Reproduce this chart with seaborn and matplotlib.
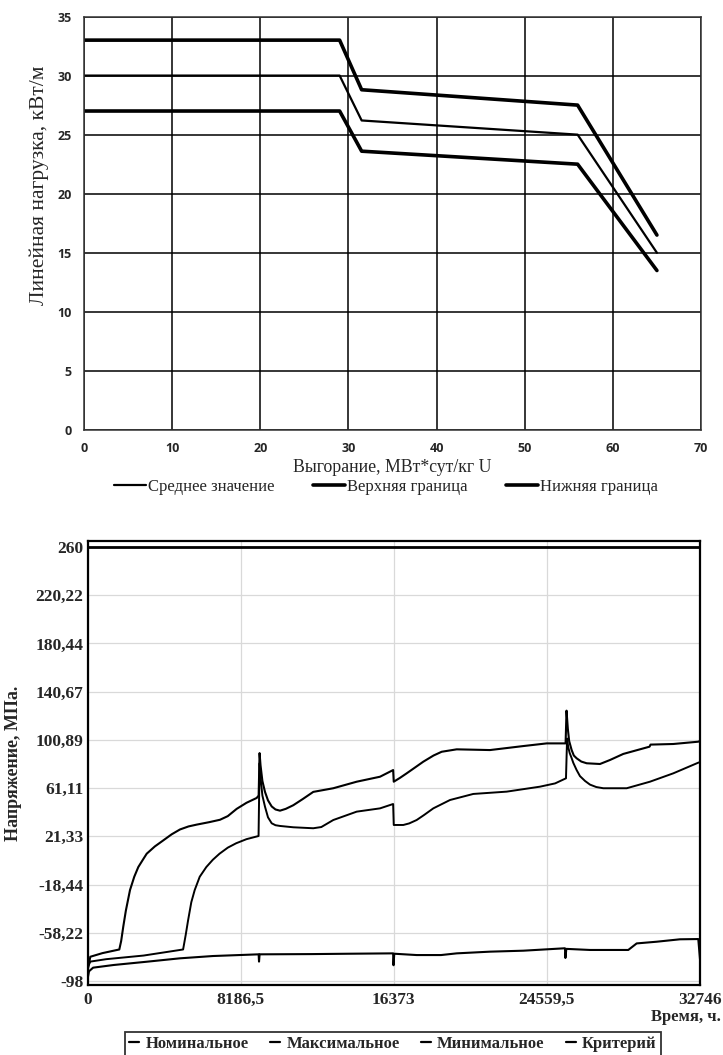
import numpy as np
import pandas as pd
import matplotlib
matplotlib.use("Agg")
import matplotlib.pyplot as plt
import seaborn as sns
from matplotlib.lines import Line2D

# ---------------- data: top chart ----------------
burnup = [0, 29, 31.5, 56, 65]
load_mean = [30, 30, 26.2, 25.0, 15.0]
load_upper = [33, 33, 28.8, 27.5, 16.5]
load_lower = [27, 27, 23.6, 22.5, 13.5]
top_labels = ["Среднее значение", "Верхняя граница", "Нижняя граница"]
top_xticks = [0, 10, 20, 30, 40, 50, 60, 70]
top_yticks = [0, 5, 10, 15, 20, 25, 30, 35]

# ---------------- data: bottom chart ----------------
t_max = [0, 25, 150, 800, 1700, 1800, 1914, 2050, 2272, 2500, 2716, 3000, 3165, 3600,
         4052, 4500, 4945, 5400, 5838, 6500, 7083, 7500, 7976, 8500, 9046,
         9150, 9200, 9250, 9350, 9489, 9650, 9847, 10050, 10291, 10600, 11002, 11500,
         12071, 13141, 14392, 15638, 16340,
         16373, 16700, 17064, 17500, 17952, 18500, 18936, 19738, 21518, 23299, 24549,
         25560, 25610, 25680, 25750, 25884, 26000, 26151, 26400, 26687, 27398, 27933,
         28644, 30050, 30100, 31317, 32654, 32746]
s_max = [15, -88, -78, -75, -72, -65, -53, -40, -23, -12, -4, 3, 7, 13,
         18, 23, 27, 29.5, 31, 33, 35, 38, 44, 49, 53,
         55, 90, 80, 67, 58, 51, 46, 43.5, 42.5, 44, 47, 52,
         58, 61, 66.4, 70.5, 76,
         66.4, 69.5, 73.3, 78, 82.9, 88, 91.1, 93.1, 92.5, 95.8, 98,
         98, 125, 110, 100, 92.5, 88, 85.7, 83, 81.6, 81, 84.3,
         89.3, 95.3, 97, 97.5, 99.4, 100]

t_nom = [0, 30, 150, 1000, 3000, 5111, 5250, 5377, 5550, 5731, 6000, 6352, 6700, 7058,
         7500, 7945, 8500, 9145, 9200, 9250, 9350, 9489, 9650, 9847, 10050, 10291,
         11002, 12071, 12500, 13141, 14392, 15638, 16340, 16373, 16883,
         17200, 17599, 18000, 18487, 19380, 20625, 22411, 24191, 25000, 25581,
         25640, 25700, 25780, 25880, 25971, 26150, 26329, 26600, 26864, 27200,
         27575, 28826, 30071, 31317, 32654, 32746]
s_nom = [-90, -86, -82, -80, -77, -72, -60, -48, -33, -23, -12, -4, 2, 7,
         12, 15.6, 19, 21.6, 81.6, 70, 55, 45.8, 37, 32.1, 30.5, 29.9,
         28.8, 28, 29, 34.8, 41.7, 44.4, 48, 30.7, 30.7,
         32, 34.8, 39, 44.4, 51.3, 56.3, 58.2, 62.3, 65, 69.2,
         102, 95, 90, 86, 82, 76, 71, 67, 64, 62,
         61, 61, 66.4, 73.3, 82.1, 82.5]

t_min = [0, 20, 80, 300, 1397, 3167, 4935, 6703, 9150, 9170, 9200, 12000, 14000, 16340,
         16360, 16400, 17599, 18900, 19738, 21518, 23299, 25527, 25550, 25600, 26864, 28911,
         29360, 30429, 31675, 32654, 32746]
s_min = [-98, -95, -90, -87, -84.8, -82.1, -79.3, -77.4, -76, -82, -76, -75.8, -75.5, -75.2,
         -85, -75.5, -76.6, -76.6, -75.2, -73.8, -73, -71, -79, -71.5, -72.4, -72.4,
         -67, -65.6, -63.6, -63.4, -80]

t_crit = [0, 32746]
s_crit = [260, 260]

bottom_labels = ["Номинальное", "Максимальное", "Минимальное", "Критерий"]
bottom_xticks = [0, 8186.5, 16373, 24559.5, 32746]
bottom_xticklabels = ["0", "8186,5", "16373", "24559,5", "32746"]
bottom_yticks = [-98, -58.22, -18.44, 21.33, 61.11, 100.89, 140.67, 180.44, 220.22, 260]
bottom_yticklabels = ["-98", "-58,22", "-18,44", "21,33", "61,11", "100,89", "140,67",
                      "180,44", "220,22", "260"]

# ---------------- style ----------------
sns.set_theme(style="white")
plt.rcParams['font.family'] = ['Liberation Serif', 'DejaVu Serif']

W, H = 723, 1055
fig = plt.figure(figsize=(W / 100, H / 100), dpi=100)

def box(l, r, t, b):
    return [l / W, 1 - b / H, (r - l) / W, (b - t) / H]

# ================= top chart =================
ax1 = fig.add_axes(box(84, 701, 16.5, 430))
top_df = pd.DataFrame({
    "x": burnup * 3,
    "y": load_mean + load_upper + load_lower,
    "s": [top_labels[0]] * 5 + [top_labels[1]] * 5 + [top_labels[2]] * 5,
})
widths = {top_labels[0]: 1.6, top_labels[1]: 2.6, top_labels[2]: 2.6}
for lab in top_labels:
    sub = top_df[top_df.s == lab]
    sns.lineplot(data=sub, x="x", y="y", ax=ax1, color="black", lw=widths[lab],
                 estimator=None, sort=False, label=lab, legend=False)
ax1.set_xlim(0, 70)
ax1.set_ylim(0, 35)
ax1.set_xticks(top_xticks)
ax1.set_yticks(top_yticks)
ax1.grid(True, color="black", lw=1.1)
ax1.set_axisbelow(True)
for sp in ax1.spines.values():
    sp.set_color("#333333")
    sp.set_linewidth(1.1)
ax1.tick_params(length=0, pad=9)
for lbl in ax1.get_xticklabels() + ax1.get_yticklabels():
    lbl.set_fontfamily("Open Sans")
    lbl.set_fontweight("bold")
    lbl.set_fontsize(9)
ax1.set_xlabel("Выгорание, МВт*сут/кг U", fontsize=12.8)
ax1.set_ylabel("Линейная нагрузка, кВт/м", fontsize=15.5)
ax1.xaxis.set_label_coords(0.5, (430 - 468) / 413.5)
ax1.xaxis.label.set_va("center")
ax1.yaxis.set_label_coords((39 - 84) / 617, (430 - 185) / 413.5)
ax1.yaxis.label.set_va("center")

h_top = [Line2D([], [], color="black", lw=widths[l]) for l in top_labels]
fig.legend(h_top, top_labels, loc="center", bbox_to_anchor=(386 / W, 1 - 487 / H),
           ncol=3, frameon=False, fontsize=12, handlelength=1.9, handletextpad=0.15,
           columnspacing=2.3)

# ================= bottom chart =================
ax2 = fig.add_axes(box(87.5, 700, 541, 985))
bot_df = pd.DataFrame({
    "t": t_nom + t_max + t_min + t_crit,
    "s": s_nom + s_max + s_min + s_crit,
    "name": [bottom_labels[0]] * len(t_nom) + [bottom_labels[1]] * len(t_max)
            + [bottom_labels[2]] * len(t_min) + [bottom_labels[3]] * len(t_crit),
})
bw = {bottom_labels[0]: 1.4, bottom_labels[1]: 1.5, bottom_labels[2]: 1.5, bottom_labels[3]: 2.0}
for lab in bottom_labels:
    sub = bot_df[bot_df.name == lab]
    sns.lineplot(data=sub, x="t", y="s", ax=ax2, color="black", lw=bw[lab],
                 estimator=None, sort=False, legend=False)
ax2.set_xlim(0, 32746)
ax2.set_ylim(-98 - 4 / 1.2123, 260 + 6 / 1.2123)
ax2.set_xticks(bottom_xticks)
ax2.set_xticklabels(bottom_xticklabels)
ax2.set_yticks(bottom_yticks)
ax2.set_yticklabels(bottom_yticklabels)
ax2.grid(True, color="#d9d9d9", lw=0.9)
ax2.set_axisbelow(True)
for sp in ax2.spines.values():
    sp.set_color("black")
    sp.set_linewidth(1.6)
ax2.tick_params(length=0)
ax2.tick_params(axis="x", pad=5)
ax2.tick_params(axis="y", pad=3)
for lbl in ax2.get_xticklabels() + ax2.get_yticklabels():
    lbl.set_fontweight("bold")
    lbl.set_fontsize(12.5)
ax2.set_xlabel("")
ax2.set_ylabel("Напряжение, МПа.", fontsize=13, fontweight="bold")
ax2.yaxis.set_label_coords((14 - 87.5) / 612.5, 0.5)
ax2.yaxis.label.set_va("center")
fig.text(721 / W, 1 - 1017 / H, "Время, ч.", ha="right", va="center",
         fontsize=12, fontweight="bold")

h_bot = [Line2D([], [], color="black", lw=1.6) for _ in bottom_labels]
leg = fig.legend(h_bot, bottom_labels, loc="upper left",
                 bbox_to_anchor=(125 / W, 1 - 1032 / H), ncol=4, frameon=True,
                 fancybox=False, prop={"weight": "bold", "size": 12},
                 handlelength=0.6, handletextpad=0.4, columnspacing=1.25,
                 borderpad=0.25, borderaxespad=0)
leg.get_frame().set_edgecolor("black")
leg.get_frame().set_linewidth(1.3)

fig.savefig("out.png", dpi=100, facecolor="white")
